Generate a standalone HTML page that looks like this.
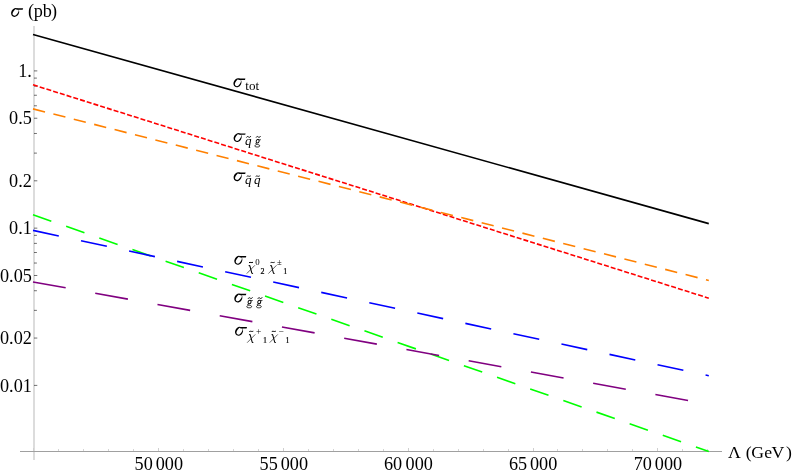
<!DOCTYPE html>
<html><head><meta charset="utf-8"><title>plot</title>
<style>html,body{margin:0;padding:0;background:#fff;}svg{display:block;will-change:transform;}</style></head>
<body>
<svg width="792" height="474" viewBox="0 0 792 474">
<rect width="792" height="474" fill="#fff"/>
<rect x="33" y="26" width="2" height="434" fill="#dcdcdc"/>
<rect x="20" y="451" width="702" height="1" fill="#a0a0a0"/>
<rect x="33" y="448" width="1" height="3" fill="#cfcfcf"/>
<rect x="58" y="449" width="1" height="2" fill="#d4d4d4"/>
<rect x="83" y="449" width="1" height="2" fill="#d4d4d4"/>
<rect x="108" y="449" width="1" height="2" fill="#d4d4d4"/>
<rect x="133" y="449" width="1" height="2" fill="#d4d4d4"/>
<rect x="158" y="448" width="1" height="3" fill="#cfcfcf"/>
<rect x="183" y="449" width="1" height="2" fill="#d4d4d4"/>
<rect x="208" y="449" width="1" height="2" fill="#d4d4d4"/>
<rect x="233" y="449" width="1" height="2" fill="#d4d4d4"/>
<rect x="258" y="449" width="1" height="2" fill="#d4d4d4"/>
<rect x="283" y="448" width="1" height="3" fill="#cfcfcf"/>
<rect x="308" y="449" width="1" height="2" fill="#d4d4d4"/>
<rect x="333" y="449" width="1" height="2" fill="#d4d4d4"/>
<rect x="358" y="449" width="1" height="2" fill="#d4d4d4"/>
<rect x="383" y="449" width="1" height="2" fill="#d4d4d4"/>
<rect x="408" y="448" width="1" height="3" fill="#cfcfcf"/>
<rect x="433" y="449" width="1" height="2" fill="#d4d4d4"/>
<rect x="458" y="449" width="1" height="2" fill="#d4d4d4"/>
<rect x="483" y="449" width="1" height="2" fill="#d4d4d4"/>
<rect x="508" y="449" width="1" height="2" fill="#d4d4d4"/>
<rect x="533" y="448" width="1" height="3" fill="#cfcfcf"/>
<rect x="557" y="449" width="1" height="2" fill="#d4d4d4"/>
<rect x="582" y="449" width="1" height="2" fill="#d4d4d4"/>
<rect x="607" y="449" width="1" height="2" fill="#d4d4d4"/>
<rect x="632" y="449" width="1" height="2" fill="#d4d4d4"/>
<rect x="657" y="448" width="1" height="3" fill="#cfcfcf"/>
<rect x="682" y="449" width="1" height="2" fill="#d4d4d4"/>
<rect x="707" y="449" width="1" height="2" fill="#d4d4d4"/>
<line x1="34" y1="70.90" x2="37.3" y2="70.90" stroke="#111" stroke-width="0.6"/>
<line x1="34" y1="118.24" x2="37.3" y2="118.24" stroke="#111" stroke-width="0.6"/>
<line x1="34" y1="180.81" x2="37.3" y2="180.81" stroke="#111" stroke-width="0.6"/>
<line x1="34" y1="228.15" x2="37.3" y2="228.15" stroke="#111" stroke-width="0.6"/>
<line x1="34" y1="275.49" x2="37.3" y2="275.49" stroke="#111" stroke-width="0.6"/>
<line x1="34" y1="338.06" x2="37.3" y2="338.06" stroke="#111" stroke-width="0.6"/>
<line x1="34" y1="385.40" x2="37.3" y2="385.40" stroke="#111" stroke-width="0.6"/>
<line x1="34" y1="78.10" x2="36.9" y2="78.10" stroke="#111" stroke-width="0.6"/>
<line x1="34" y1="86.14" x2="36.9" y2="86.14" stroke="#111" stroke-width="0.6"/>
<line x1="34" y1="95.26" x2="36.9" y2="95.26" stroke="#111" stroke-width="0.6"/>
<line x1="34" y1="105.79" x2="36.9" y2="105.79" stroke="#111" stroke-width="0.6"/>
<line x1="34" y1="133.48" x2="36.9" y2="133.48" stroke="#111" stroke-width="0.6"/>
<line x1="34" y1="153.12" x2="36.9" y2="153.12" stroke="#111" stroke-width="0.6"/>
<line x1="34" y1="235.35" x2="36.9" y2="235.35" stroke="#111" stroke-width="0.6"/>
<line x1="34" y1="243.39" x2="36.9" y2="243.39" stroke="#111" stroke-width="0.6"/>
<line x1="34" y1="252.51" x2="36.9" y2="252.51" stroke="#111" stroke-width="0.6"/>
<line x1="34" y1="263.04" x2="36.9" y2="263.04" stroke="#111" stroke-width="0.6"/>
<line x1="34" y1="290.73" x2="36.9" y2="290.73" stroke="#111" stroke-width="0.6"/>
<line x1="34" y1="310.37" x2="36.9" y2="310.37" stroke="#111" stroke-width="0.6"/>
<line x1="33.0" y1="34.47" x2="708.8" y2="223.61" stroke="#000" stroke-width="1.6"/>
<line x1="33.0" y1="84.78" x2="708.8" y2="298.16" stroke="#ff0000" stroke-width="1.6" stroke-dasharray="5.0 2.045"/>
<line x1="33.0" y1="108.85" x2="708.8" y2="280.45" stroke="#ff8000" stroke-width="1.6" stroke-dasharray="12.4 8.64"/>
<line x1="33.0" y1="214.75" x2="708.8" y2="451.47" stroke="#00ff00" stroke-width="1.6" stroke-dasharray="19.4 15.72"/>
<line x1="33.0" y1="230.38" x2="708.8" y2="375.74" stroke="#0000ff" stroke-width="1.6" stroke-dasharray="26.4 22.74"/>
<line x1="33.0" y1="281.92" x2="708.8" y2="404.24" stroke="#800080" stroke-width="1.6" stroke-dasharray="33.2 30.05"/>
<text x="31.8" y="77.0" font-family="Liberation Serif, serif" font-size="18.2" text-anchor="end" fill="#000">1.</text>
<text x="31.8" y="124.33696681816105" font-family="Liberation Serif, serif" font-size="18.2" text-anchor="end" fill="#000">0.5</text>
<text x="31.8" y="186.91303318183895" font-family="Liberation Serif, serif" font-size="18.2" text-anchor="end" fill="#000">0.2</text>
<text x="31.8" y="234.25" font-family="Liberation Serif, serif" font-size="18.2" text-anchor="end" fill="#000">0.1</text>
<text x="31.8" y="281.58696681816105" font-family="Liberation Serif, serif" font-size="18.2" text-anchor="end" fill="#000">0.05</text>
<text x="31.8" y="344.16303318183895" font-family="Liberation Serif, serif" font-size="18.2" text-anchor="end" fill="#000">0.02</text>
<text x="31.8" y="391.5" font-family="Liberation Serif, serif" font-size="18.2" text-anchor="end" fill="#000">0.01</text>
<text x="134.6" y="470.1" font-family="Liberation Serif, serif" font-size="18.2" text-anchor="start" fill="#000">50</text>
<text x="155.75" y="470.1" font-family="Liberation Serif, serif" font-size="18.2" text-anchor="start" fill="#000">000</text>
<text x="259.6" y="470.1" font-family="Liberation Serif, serif" font-size="18.2" text-anchor="start" fill="#000">55</text>
<text x="280.75" y="470.1" font-family="Liberation Serif, serif" font-size="18.2" text-anchor="start" fill="#000">000</text>
<text x="383.9" y="470.1" font-family="Liberation Serif, serif" font-size="18.2" text-anchor="start" fill="#000">60</text>
<text x="405.6" y="470.1" font-family="Liberation Serif, serif" font-size="18.2" text-anchor="start" fill="#000">000</text>
<text x="508.9" y="470.1" font-family="Liberation Serif, serif" font-size="18.2" text-anchor="start" fill="#000">65</text>
<text x="530.0" y="470.1" font-family="Liberation Serif, serif" font-size="18.2" text-anchor="start" fill="#000">000</text>
<text x="633.7" y="470.1" font-family="Liberation Serif, serif" font-size="18.2" text-anchor="start" fill="#000">70</text>
<text x="654.85" y="470.1" font-family="Liberation Serif, serif" font-size="18.2" text-anchor="start" fill="#000">000</text>
<path d="M12.85 16.38 A3.70 4.60 30 1 0 17.45 8.42 A3.70 4.60 30 1 0 12.85 16.38 Z M13.42 15.31 A2.20 3.80 35 1 0 17.78 9.09 A2.20 3.80 35 1 0 13.42 15.31 Z" fill="#000" fill-rule="evenodd"/>
<path d="M15.20 8.90 L16.60 8.20 L23.10 8.20 L22.70 9.65 L17.00 9.65 Z" fill="#000"/>
<text x="28.1" y="16.7" font-family="Liberation Serif, serif" font-size="18.2" text-anchor="start" fill="#000">(</text>
<text x="33.75" y="16.7" font-family="Liberation Serif, serif" font-size="18.2" text-anchor="start" fill="#000">pb</text>
<text x="51.1" y="16.7" font-family="Liberation Serif, serif" font-size="18.2" text-anchor="start" fill="#000">)</text>
<text x="728.1" y="457.6" font-family="Liberation Serif, serif" font-size="17.7" text-anchor="start" fill="#000">Λ</text>
<text x="745.7" y="457.6" font-family="Liberation Serif, serif" font-size="17.7" text-anchor="start" fill="#000">(</text>
<text x="751.3" y="457.6" font-family="Liberation Serif, serif" font-size="17.7" text-anchor="start" fill="#000">G</text>
<text x="764.2" y="457.6" font-family="Liberation Serif, serif" font-size="17.7" text-anchor="start" fill="#000">e</text>
<text x="771.5" y="457.6" font-family="Liberation Serif, serif" font-size="17.7" text-anchor="start" fill="#000">V</text>
<text x="785.9" y="457.6" font-family="Liberation Serif, serif" font-size="17.7" text-anchor="start" fill="#000">)</text>
<path d="M235.15 86.78 A3.70 4.60 30 1 0 239.75 78.82 A3.70 4.60 30 1 0 235.15 86.78 Z M235.72 85.71 A2.20 3.80 35 1 0 240.08 79.49 A2.20 3.80 35 1 0 235.72 85.71 Z" fill="#000" fill-rule="evenodd"/>
<path d="M237.50 79.30 L238.90 78.60 L245.40 78.60 L245.00 80.05 L239.30 80.05 Z" fill="#000"/>
<text x="245.3" y="89.8" font-family="Liberation Serif, serif" font-size="13.1" text-anchor="start" fill="#000">tot</text>
<path d="M235.35 141.58 A3.70 4.60 30 1 0 239.95 133.62 A3.70 4.60 30 1 0 235.35 141.58 Z M235.92 140.51 A2.20 3.80 35 1 0 240.28 134.29 A2.20 3.80 35 1 0 235.92 140.51 Z" fill="#000" fill-rule="evenodd"/>
<path d="M237.70 134.10 L239.10 133.40 L245.60 133.40 L245.20 134.85 L239.50 134.85 Z" fill="#000"/>
<text x="245.0" y="144.7" font-family="Liberation Serif, serif" font-size="13.1" text-anchor="start" font-style="italic" fill="#000">q</text>
<path d="M246.40 137.55 C247.15 136.05 248.05 136.50 248.60 137.00 C249.15 137.50 250.05 137.60 250.80 136.15" fill="none" stroke="#000" stroke-width="0.95" stroke-linecap="butt"/>
<path d="M260.85 139.69 L259.10 139.92" fill="none" stroke="#000" stroke-width="0.75"/>
<ellipse cx="257.65" cy="141.20" rx="1.45" ry="1.8" transform="rotate(20 257.65 141.20)" fill="none" stroke="#000" stroke-width="0.95"/>
<path d="M256.70 142.86 C255.50 143.23 255.40 143.96 256.50 144.24 C258.00 144.61 259.70 144.70 259.70 145.76 C259.70 146.82 258.30 147.09 256.90 147.00 C255.40 146.91 254.65 146.45 254.90 145.76 C255.10 145.16 255.70 144.79 256.60 144.29" fill="none" stroke="#000" stroke-width="0.8" stroke-linejoin="round"/>
<path d="M256.10 137.55 C256.85 136.05 257.75 136.50 258.30 137.00 C258.85 137.50 259.75 137.60 260.50 136.15" fill="none" stroke="#000" stroke-width="0.95" stroke-linecap="butt"/>
<path d="M235.35 180.68 A3.70 4.60 30 1 0 239.95 172.72 A3.70 4.60 30 1 0 235.35 180.68 Z M235.92 179.61 A2.20 3.80 35 1 0 240.28 173.39 A2.20 3.80 35 1 0 235.92 179.61 Z" fill="#000" fill-rule="evenodd"/>
<path d="M237.70 173.20 L239.10 172.50 L245.60 172.50 L245.20 173.95 L239.50 173.95 Z" fill="#000"/>
<text x="245.0" y="184.2" font-family="Liberation Serif, serif" font-size="13.1" text-anchor="start" font-style="italic" fill="#000">q</text>
<path d="M246.70 176.42 C247.38 175.82 248.20 176.00 248.70 176.20 C249.20 176.40 250.02 176.44 250.70 175.86" fill="none" stroke="#000" stroke-width="0.95" stroke-linecap="butt"/>
<text x="254.0" y="184.2" font-family="Liberation Serif, serif" font-size="13.1" text-anchor="start" font-style="italic" fill="#000">q</text>
<path d="M255.70 176.42 C256.38 175.82 257.20 176.00 257.70 176.20 C258.20 176.40 259.02 176.44 259.70 175.86" fill="none" stroke="#000" stroke-width="0.95" stroke-linecap="butt"/>
<path d="M236.05 264.28 A3.70 4.60 30 1 0 240.65 256.32 A3.70 4.60 30 1 0 236.05 264.28 Z M236.62 263.21 A2.20 3.80 35 1 0 240.98 256.99 A2.20 3.80 35 1 0 236.62 263.21 Z" fill="#000" fill-rule="evenodd"/>
<path d="M238.40 256.80 L239.80 256.10 L246.30 256.10 L245.90 257.55 L240.20 257.55 Z" fill="#000"/>
<path d="M254.90 265.30 L246.75 273.60" fill="none" stroke="#000" stroke-width="0.6"/>
<path d="M248.90 266.10 C249.10 265.30 249.70 265.20 249.95 266.20 L251.70 272.70 C251.95 273.60 252.50 273.70 252.80 273.00" fill="none" stroke="#000" stroke-width="1.05" stroke-linejoin="round"/>
<path d="M249.00 262.64 C249.68 262.26 250.50 262.38 251.00 262.50 C251.50 262.62 252.32 262.65 253.00 262.29" fill="none" stroke="#000" stroke-width="1.0" stroke-linecap="butt"/>
<text x="255.3" y="264.75" font-family="Liberation Serif, serif" font-size="8.9" text-anchor="start" fill="#000">0</text>
<text x="260.4" y="273.8" font-family="Liberation Serif, serif" font-size="8.0" text-anchor="start" fill="#000" stroke="#000" stroke-width="0.2">2</text>
<path d="M276.50 265.30 L268.35 273.60" fill="none" stroke="#000" stroke-width="0.6"/>
<path d="M270.50 266.10 C270.70 265.30 271.30 265.20 271.55 266.20 L273.30 272.70 C273.55 273.60 274.10 273.70 274.40 273.00" fill="none" stroke="#000" stroke-width="1.05" stroke-linejoin="round"/>
<path d="M270.60 262.64 C271.28 262.26 272.10 262.38 272.60 262.50 C273.10 262.62 273.92 262.65 274.60 262.29" fill="none" stroke="#000" stroke-width="1.0" stroke-linecap="butt"/>
<text x="276.9" y="265.0" font-family="Liberation Serif, serif" font-size="8.6" text-anchor="start" fill="#000">±</text>
<text x="283.2" y="273.8" font-family="Liberation Serif, serif" font-size="8.0" text-anchor="start" fill="#000" stroke="#000" stroke-width="0.2">1</text>
<path d="M236.05 301.98 A3.70 4.60 30 1 0 240.65 294.02 A3.70 4.60 30 1 0 236.05 301.98 Z M236.62 300.91 A2.20 3.80 35 1 0 240.98 294.69 A2.20 3.80 35 1 0 236.62 300.91 Z" fill="#000" fill-rule="evenodd"/>
<path d="M238.40 294.50 L239.80 293.80 L246.30 293.80 L245.90 295.25 L240.20 295.25 Z" fill="#000"/>
<path d="M252.75 300.49 L251.00 300.72" fill="none" stroke="#000" stroke-width="0.75"/>
<ellipse cx="249.55" cy="302.00" rx="1.45" ry="1.8" transform="rotate(20 249.55 302.00)" fill="none" stroke="#000" stroke-width="0.95"/>
<path d="M248.60 303.66 C247.40 304.03 247.30 304.76 248.40 305.04 C249.90 305.41 251.60 305.50 251.60 306.56 C251.60 307.62 250.20 307.89 248.80 307.80 C247.30 307.71 246.55 307.25 246.80 306.56 C247.00 305.96 247.60 305.59 248.50 305.09" fill="none" stroke="#000" stroke-width="0.8" stroke-linejoin="round"/>
<path d="M248.10 298.75 C248.85 297.25 249.75 297.70 250.30 298.20 C250.85 298.70 251.75 298.80 252.50 297.35" fill="none" stroke="#000" stroke-width="0.95" stroke-linecap="butt"/>
<path d="M262.45 300.49 L260.70 300.72" fill="none" stroke="#000" stroke-width="0.75"/>
<ellipse cx="259.25" cy="302.00" rx="1.45" ry="1.8" transform="rotate(20 259.25 302.00)" fill="none" stroke="#000" stroke-width="0.95"/>
<path d="M258.30 303.66 C257.10 304.03 257.00 304.76 258.10 305.04 C259.60 305.41 261.30 305.50 261.30 306.56 C261.30 307.62 259.90 307.89 258.50 307.80 C257.00 307.71 256.25 307.25 256.50 306.56 C256.70 305.96 257.30 305.59 258.20 305.09" fill="none" stroke="#000" stroke-width="0.8" stroke-linejoin="round"/>
<path d="M257.80 298.75 C258.55 297.25 259.45 297.70 260.00 298.20 C260.55 298.70 261.45 298.80 262.20 297.35" fill="none" stroke="#000" stroke-width="0.95" stroke-linecap="butt"/>
<path d="M236.75 335.28 A3.70 4.60 30 1 0 241.35 327.32 A3.70 4.60 30 1 0 236.75 335.28 Z M237.32 334.21 A2.20 3.80 35 1 0 241.68 327.99 A2.20 3.80 35 1 0 237.32 334.21 Z" fill="#000" fill-rule="evenodd"/>
<path d="M239.10 327.80 L240.50 327.10 L247.00 327.10 L246.60 328.55 L240.90 328.55 Z" fill="#000"/>
<path d="M255.30 334.40 L247.15 342.70" fill="none" stroke="#000" stroke-width="0.6"/>
<path d="M249.30 335.20 C249.50 334.40 250.10 334.30 250.35 335.30 L252.10 341.80 C252.35 342.70 252.90 342.80 253.20 342.10" fill="none" stroke="#000" stroke-width="1.05" stroke-linejoin="round"/>
<path d="M249.30 331.54 C249.98 331.16 250.80 331.27 251.30 331.40 C251.80 331.52 252.62 331.55 253.30 331.19" fill="none" stroke="#000" stroke-width="1.0" stroke-linecap="butt"/>
<text x="256.0" y="334.6" font-family="Liberation Serif, serif" font-size="9.3" text-anchor="start" fill="#000">+</text>
<text x="262.9" y="342.7" font-family="Liberation Serif, serif" font-size="8.0" text-anchor="start" fill="#000" stroke="#000" stroke-width="0.2">1</text>
<path d="M277.80 334.40 L269.65 342.70" fill="none" stroke="#000" stroke-width="0.6"/>
<path d="M271.80 335.20 C272.00 334.40 272.60 334.30 272.85 335.30 L274.60 341.80 C274.85 342.70 275.40 342.80 275.70 342.10" fill="none" stroke="#000" stroke-width="1.05" stroke-linejoin="round"/>
<path d="M271.80 331.54 C272.48 331.16 273.30 331.27 273.80 331.40 C274.30 331.52 275.12 331.55 275.80 331.19" fill="none" stroke="#000" stroke-width="1.0" stroke-linecap="butt"/>
<text x="278.6" y="335.0" font-family="Liberation Serif, serif" font-size="9.3" text-anchor="start" fill="#000">−</text>
<text x="285.4" y="342.7" font-family="Liberation Serif, serif" font-size="8.0" text-anchor="start" fill="#000" stroke="#000" stroke-width="0.2">1</text>
</svg>
</body></html>
